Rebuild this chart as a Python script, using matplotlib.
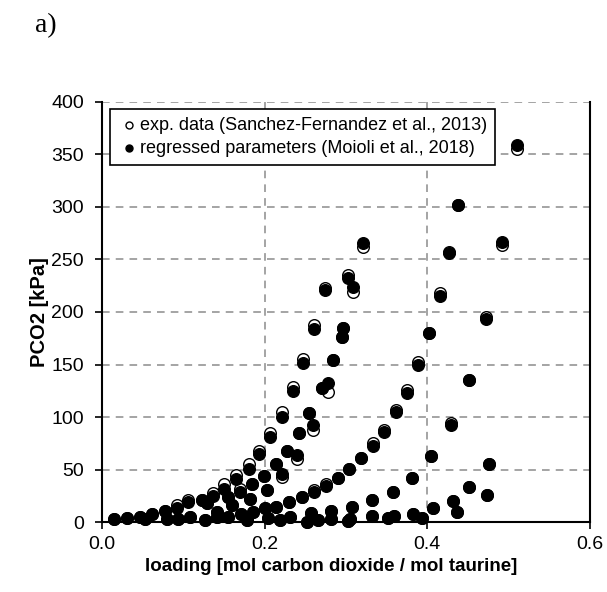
import matplotlib
matplotlib.use("Agg")
import matplotlib.pyplot as plt
import numpy as np

plt.rcParams['font.family'] = ['Liberation Sans', 'DejaVu Sans']

# CO2 loading (mol CO2 / mol taurine)
loading = [
    0.015, 0.031, 0.047, 0.062, 0.077, 0.092, 0.106, 0.123, 0.137, 0.150,
    0.165, 0.181, 0.193, 0.207, 0.221, 0.235, 0.247, 0.261, 0.274, 0.303,
    0.321, 0.309, 0.296, 0.295, 0.284, 0.278, 0.270, 0.254, 0.259, 0.242,
    0.227, 0.240, 0.214, 0.221, 0.199, 0.184, 0.170, 0.203, 0.182, 0.155,
    0.160, 0.141, 0.129, 0.127, 0.155, 0.171, 0.186, 0.200, 0.214, 0.230,
    0.246, 0.261, 0.275, 0.290, 0.304, 0.318, 0.333, 0.347, 0.362, 0.375,
    0.388, 0.402, 0.416, 0.427, 0.438, 0.510, 0.492, 0.472, 0.451, 0.429,
    0.405, 0.476, 0.381, 0.451, 0.473, 0.432, 0.407, 0.437, 0.382, 0.394,
    0.358, 0.332, 0.307, 0.281, 0.257, 0.281, 0.266, 0.252, 0.305, 0.303,
    0.332, 0.352, 0.359, 0.178, 0.219, 0.204, 0.053, 0.080, 0.093, 0.108,
    0.141, 0.231,
]

# Experimental CO2 partial pressure (kPa)
pco2_exp = [
    3, 4, 5, 8, 11, 16, 21, 21, 28, 36,
    45, 55, 68, 85, 105, 129, 155, 188, 223, 235,
    262, 219, 185, 176, 154, 124, 128, 104, 88, 85,
    68, 60, 55, 43, 44, 36, 32, 31, 22, 24,
    16, 10, 18, 2, 5, 8, 10, 13, 14, 19,
    24, 31, 36, 42, 51, 61, 75, 88, 107, 126,
    152, 180, 218, 257, 302, 355, 264, 195, 135, 94,
    63, 55, 42, 33, 26, 20, 13, 10, 8, 4,
    29, 21, 14, 11, 9, 3, 2, 0.5, 3, 1,
    6, 4, 6, 2, 2, 4, 3, 3, 3, 5,
    5, 5,
]

# CO2 partial pressure from the regressed model (kPa)
pco2_reg = [
    3, 4, 5, 8, 11, 13, 19, 21, 25, 32,
    41, 51, 65, 81, 100, 125, 151, 184, 221, 232,
    266, 224, 185, 176, 154, 132, 128, 104, 92, 85,
    68, 64, 55, 46, 44, 36, 29, 31, 22, 24,
    16, 10, 18, 2, 5, 8, 10, 13, 14, 19,
    24, 29, 34, 42, 51, 61, 72, 86, 105, 123,
    150, 180, 215, 256, 302, 359, 267, 193, 135, 92,
    63, 55, 42, 33, 26, 20, 13, 10, 8, 4,
    29, 21, 14, 11, 9, 3, 2, 0.5, 3, 1,
    6, 4, 6, 2, 2, 4, 3, 3, 3, 5,
    5, 5,
]

x_ticks = [0.0, 0.2, 0.4, 0.6]
y_ticks = [0, 50, 100, 150, 200, 250, 300, 350, 400]

fig = plt.figure(figsize=(6.07, 5.92), dpi=100)
ax = fig.add_axes([0.168, 0.118, 0.804, 0.710])

ax.scatter(loading, pco2_exp, s=70, facecolor='white', edgecolor='black',
           linewidth=1.0, zorder=3, clip_on=False,
           label='exp. data (Sanchez-Fernandez et al., 2013)')
ax.scatter(loading, pco2_reg, s=70, facecolor='black', edgecolor='black',
           linewidth=1.0, zorder=4, clip_on=False,
           label='regressed parameters (Moioli et al., 2018)')

ax.set_xlim(0, 0.6)
ax.set_ylim(0, 400)
ax.set_xticks(x_ticks)
ax.set_xticklabels([f"{v:.1f}" for v in x_ticks])
ax.set_yticks(y_ticks)
ax.set_yticklabels([str(v) for v in y_ticks])

ax.grid(True, linestyle=(0, (5, 4)), color='#8c8c8c', linewidth=1.1, zorder=0)
ax.set_axisbelow(True)

ax.spines['top'].set_visible(False)
for side in ('left', 'bottom', 'right'):
    ax.spines[side].set_linewidth(1.5)
    ax.spines[side].set_color('black')

ax.tick_params(axis='both', direction='out', length=5, width=1.2,
               labelsize=14, colors='black')
ax.tick_params(axis='y', pad=8)
ax.tick_params(axis='x', pad=5)

ax.set_xlabel('loading [mol carbon dioxide / mol taurine]', fontsize=13.5,
              fontweight='bold')
ax.xaxis.set_label_coords(0.47, -0.085)
ax.set_ylabel('PCO2 [kPa]', fontsize=14.5, fontweight='bold')
ax.yaxis.set_label_coords(-0.108, 0.5)

leg = ax.legend(loc='upper left', bbox_to_anchor=(0.016, 0.983),
                fontsize=13, frameon=True, fancybox=False, framealpha=1,
                edgecolor='black', handletextpad=0.0, handlelength=1.2,
                borderpad=0.45, labelspacing=0.3, markerscale=0.6,
                borderaxespad=0)
leg.get_frame().set_linewidth(1.2)
leg.set_zorder(10)

fig.text(0.057, 0.978, 'a)', fontsize=20, family=['Liberation Serif', 'DejaVu Serif'],
         va='top', ha='left')

fig.savefig('out.png', dpi=100)
